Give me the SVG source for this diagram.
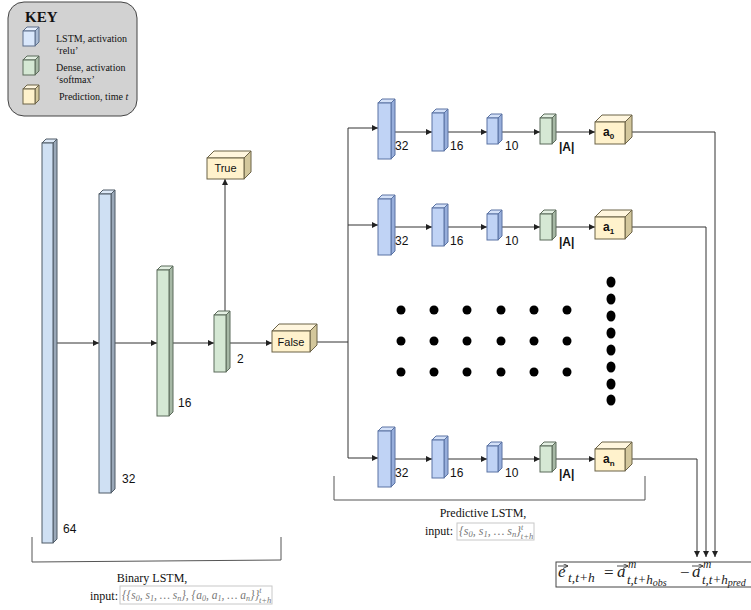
<svg xmlns="http://www.w3.org/2000/svg" width="751" height="610" viewBox="0 0 751 610">
  <defs>
    <marker id="arr" viewBox="0 0 6 6" refX="6" refY="3" markerWidth="6" markerHeight="6" markerUnits="userSpaceOnUse" orient="auto">
      <path d="M0,0 L6,3 L0,6 z" fill="#222"/>
    </marker>
    <marker id="vec" viewBox="0 0 6 6" refX="6" refY="3" markerWidth="5" markerHeight="5" markerUnits="userSpaceOnUse" orient="auto">
      <path d="M0,0 L6,3 L0,6" fill="none" stroke="#222" stroke-width="1"/>
    </marker>
  </defs>
  <style>
    .sans { font-family: "Liberation Sans", Arial, sans-serif; fill: #111; stroke: none; }
    .serif { font-family: "Liberation Serif", "Times New Roman", serif; fill: #111; }
    .math { font-family: "Liberation Serif", "Times New Roman", serif; font-style: italic; fill: #777; }
    .fx { font-family: "Liberation Serif", "Times New Roman", serif; fill: #222; }
    .line { fill: none; stroke: #333; stroke-width: 1; }
    .brk { fill: none; stroke: #555; stroke-width: 1; }
    /* cube faces: left stack (pale blue/green), right stacks (stronger blue), predictions (yellow) */
    .lb .f { fill: #cfe0f3; } .lb .t { fill: #dde9f7; } .lb .s { fill: #9aa8b8; }
    .lb polygon, .lb rect { stroke: #4f5b66; stroke-width: 1; }
    .lg .f { fill: #d5e8d4; } .lg .t { fill: #e3efe2; } .lg .s { fill: #a6b8a5; }
    .lg polygon, .lg rect { stroke: #5b6b5a; stroke-width: 1; }
    .rb .f { fill: #c0d3f5; } .rb .t { fill: #d4e1f8; } .rb .s { fill: #97aedb; }
    .rb polygon, .rb rect { stroke: #5a73a3; stroke-width: 1; }
    .yl .f { fill: #fff2cc; } .yl .t { fill: #fff6de; } .yl .s { fill: #d3c79c; }
    .yl polygon, .yl rect { stroke: #6b6247; stroke-width: 1; }
    .kb .f { fill: #dae8fc; } .kb .t { fill: #e6effc; } .kb .s { fill: #a9bbd4; }
    .kb polygon, .kb rect { stroke: #5c6f8c; stroke-width: 1; }
    .dot { fill: #000; }
  </style>

  <!-- legend -->
  <g id="key">
    <rect x="8" y="2" width="129" height="114" rx="16" ry="16" fill="#d2d2d2" stroke="#444" stroke-width="1"/>
    <text x="25" y="22" class="serif" font-size="15" font-weight="bold">KEY</text>
    <g class="kb">
      <polygon class="t" points="23,31 27,27 39,27 35,31"/>
      <polygon class="s" points="35,31 39,27 39,42 35,46"/>
      <rect class="f" x="23" y="31" width="12" height="15"/>
    </g>
    <g class="lg">
      <polygon class="t" points="23,60 27,56 39,56 35,60"/>
      <polygon class="s" points="35,60 39,56 39,71 35,75"/>
      <rect class="f" x="23" y="60" width="12" height="15"/>
    </g>
    <g class="yl">
      <polygon class="t" points="23,89 27,85 39,85 35,89"/>
      <polygon class="s" points="35,89 39,85 39,100 35,104"/>
      <rect class="f" x="23" y="89" width="12" height="15"/>
    </g>
    <g class="serif" font-size="10">
      <text x="56" y="42">LSTM, activation</text>
      <text x="56" y="54">‘relu’</text>
      <text x="56" y="71">Dense, activation</text>
      <text x="56" y="83">‘softmax’</text>
      <text x="59" y="100">Prediction, time <tspan font-style="italic">t</tspan></text>
    </g>
  </g>

  <!-- connectors -->
  <g id="connectors">
    <line class="line" x1="57" y1="343" x2="99" y2="343" marker-end="url(#arr)"/>
    <line class="line" x1="115" y1="343" x2="157" y2="343" marker-end="url(#arr)"/>
    <line class="line" x1="173" y1="343" x2="214" y2="343" marker-end="url(#arr)"/>
    <line class="line" x1="230" y1="343" x2="272" y2="343" marker-end="url(#arr)"/>
    <line class="line" x1="225" y1="313" x2="225" y2="179" marker-end="url(#arr)"/>
    <polyline class="line" points="317,342 348,342"/>
    <line class="line" x1="348" y1="128" x2="348" y2="458"/>
    <line class="line" x1="348" y1="128" x2="378" y2="128" marker-end="url(#arr)"/>
    <line class="line" x1="348" y1="225" x2="378" y2="225" marker-end="url(#arr)"/>
    <line class="line" x1="348" y1="458" x2="378" y2="458" marker-end="url(#arr)"/>
    <!-- row 0 -->
    <line class="line" x1="391" y1="132" x2="432" y2="132" marker-end="url(#arr)"/>
    <line class="line" x1="444" y1="132" x2="487" y2="132" marker-end="url(#arr)"/>
    <line class="line" x1="498" y1="132" x2="540" y2="132" marker-end="url(#arr)"/>
    <line class="line" x1="552" y1="132" x2="595" y2="132" marker-end="url(#arr)"/>
    <!-- row 1 -->
    <line class="line" x1="391" y1="227" x2="432" y2="227" marker-end="url(#arr)"/>
    <line class="line" x1="444" y1="227" x2="487" y2="227" marker-end="url(#arr)"/>
    <line class="line" x1="498" y1="227" x2="540" y2="227" marker-end="url(#arr)"/>
    <line class="line" x1="552" y1="227" x2="595" y2="227" marker-end="url(#arr)"/>
    <!-- row n -->
    <line class="line" x1="391" y1="459" x2="432" y2="459" marker-end="url(#arr)"/>
    <line class="line" x1="444" y1="459" x2="487" y2="459" marker-end="url(#arr)"/>
    <line class="line" x1="498" y1="459" x2="540" y2="459" marker-end="url(#arr)"/>
    <line class="line" x1="552" y1="459" x2="595" y2="459" marker-end="url(#arr)"/>
    <!-- outputs to error formula -->
    <polyline class="line" points="632,132 715,132 715,557" marker-end="url(#arr)"/>
    <polyline class="line" points="632,227 706,227 706,557" marker-end="url(#arr)"/>
    <polyline class="line" points="632,459 697,459 697,557" marker-end="url(#arr)"/>
  </g>

  <!-- binary LSTM stack -->
  <g id="b64" class="lb">
    <polygon class="t" points="42,143 46,139 57,139 53,143"/>
    <polygon class="s" points="53,143 57,139 57,539 53,543"/>
    <rect class="f" x="42" y="143" width="11" height="400"/>
  </g>
  <text x="63" y="533" class="sans" font-size="12">64</text>
  <g id="b32" class="lb">
    <polygon class="t" points="99,194 103,190 115,190 111,194"/>
    <polygon class="s" points="111,194 115,190 115,489 111,493"/>
    <rect class="f" x="99" y="194" width="12" height="299"/>
  </g>
  <text x="122" y="483" class="sans" font-size="12">32</text>
  <g id="b16" class="lg">
    <polygon class="t" points="157,270 161,266 173,266 169,270"/>
    <polygon class="s" points="169,270 173,266 173,412 169,416"/>
    <rect class="f" x="157" y="270" width="12" height="146"/>
  </g>
  <text x="178" y="407" class="sans" font-size="12">16</text>
  <g id="b2" class="lg">
    <polygon class="t" points="214,315 218,311 230,311 226,315"/>
    <polygon class="s" points="226,315 230,311 230,368 226,372"/>
    <rect class="f" x="214" y="315" width="12" height="57"/>
  </g>
  <text x="237" y="363" class="sans" font-size="12">2</text>

  <g id="true" class="yl">
    <polygon class="t" points="207,158 214,151 251,151 244,158"/>
    <polygon class="s" points="244,158 251,151 251,172 244,179"/>
    <rect class="f" x="207" y="158" width="37" height="21"/>
    <text x="225.5" y="172" class="sans" font-size="11" text-anchor="middle">True</text>
  </g>
  <g id="false" class="yl">
    <polygon class="t" points="272,331 279,324 317,324 310,331"/>
    <polygon class="s" points="310,331 317,324 317,345 310,352"/>
    <rect class="f" x="272" y="331" width="38" height="21"/>
    <text x="291" y="346" class="sans" font-size="11" text-anchor="middle">False</text>
  </g>

  <!-- predictive row 0 -->
  <g id="r0-32" class="rb">
    <polygon class="t" points="378,103 382,99 395,99 391,103"/>
    <polygon class="s" points="391,103 395,99 395,155 391,159"/>
    <rect class="f" x="378" y="103" width="13" height="56"/>
  </g>
  <g id="r0-16" class="rb">
    <polygon class="t" points="432,113 436,109 448,109 444,113"/>
    <polygon class="s" points="444,113 448,109 448,147 444,151"/>
    <rect class="f" x="432" y="113" width="12" height="38"/>
  </g>
  <g id="r0-10" class="rb">
    <polygon class="t" points="487,118 491,114 502,114 498,118"/>
    <polygon class="s" points="498,118 502,114 502,140 498,144"/>
    <rect class="f" x="487" y="118" width="11" height="26"/>
  </g>
  <g id="r0-A" class="lg">
    <polygon class="t" points="540,118 544,114 556,114 552,118"/>
    <polygon class="s" points="552,118 556,114 556,140 552,144"/>
    <rect class="f" x="540" y="118" width="12" height="26"/>
  </g>
  <g id="a0" class="yl">
    <polygon class="t" points="595,122 602,115 632,115 625,122"/>
    <polygon class="s" points="625,122 632,115 632,137 625,144"/>
    <rect class="f" x="595" y="122" width="30" height="22"/>
    <text x="603" y="136" class="sans" font-size="12" font-weight="bold">a<tspan font-size="8" dy="3">0</tspan></text>
  </g>
  <g class="sans" font-size="12">
    <text x="395" y="150">32</text>
    <text x="450" y="150">16</text>
    <text x="505" y="150">10</text>
    <text x="559" y="151" font-weight="bold">|A|</text>
  </g>

  <!-- predictive row 1 -->
  <g id="r1-32" class="rb">
    <polygon class="t" points="378,199 382,195 395,195 391,199"/>
    <polygon class="s" points="391,199 395,195 395,251 391,255"/>
    <rect class="f" x="378" y="199" width="13" height="56"/>
  </g>
  <g id="r1-16" class="rb">
    <polygon class="t" points="432,208 436,204 448,204 444,208"/>
    <polygon class="s" points="444,208 448,204 448,242 444,246"/>
    <rect class="f" x="432" y="208" width="12" height="38"/>
  </g>
  <g id="r1-10" class="rb">
    <polygon class="t" points="487,214 491,210 502,210 498,214"/>
    <polygon class="s" points="498,214 502,210 502,236 498,240"/>
    <rect class="f" x="487" y="214" width="11" height="26"/>
  </g>
  <g id="r1-A" class="lg">
    <polygon class="t" points="540,214 544,210 556,210 552,214"/>
    <polygon class="s" points="552,214 556,210 556,236 552,240"/>
    <rect class="f" x="540" y="214" width="12" height="26"/>
  </g>
  <g id="a1" class="yl">
    <polygon class="t" points="595,217 602,210 632,210 625,217"/>
    <polygon class="s" points="625,217 632,210 632,232 625,239"/>
    <rect class="f" x="595" y="217" width="30" height="22"/>
    <text x="603" y="231" class="sans" font-size="12" font-weight="bold">a<tspan font-size="8" dy="3">1</tspan></text>
  </g>
  <g class="sans" font-size="12">
    <text x="395" y="245">32</text>
    <text x="450" y="245">16</text>
    <text x="505" y="245">10</text>
    <text x="559" y="246" font-weight="bold">|A|</text>
  </g>

  <!-- ellipsis between rows -->
  <g id="dots">
    <circle class="dot" cx="401" cy="310" r="4.5"/><circle class="dot" cx="434" cy="310" r="4.5"/><circle class="dot" cx="467" cy="310" r="4.5"/>
    <circle class="dot" cx="501" cy="310" r="4.5"/><circle class="dot" cx="534" cy="310" r="4.5"/><circle class="dot" cx="567" cy="310" r="4.5"/>
    <circle class="dot" cx="401" cy="341" r="4.5"/><circle class="dot" cx="434" cy="341" r="4.5"/><circle class="dot" cx="467" cy="341" r="4.5"/>
    <circle class="dot" cx="501" cy="341" r="4.5"/><circle class="dot" cx="534" cy="341" r="4.5"/><circle class="dot" cx="567" cy="341" r="4.5"/>
    <circle class="dot" cx="401" cy="372" r="4.5"/><circle class="dot" cx="434" cy="372" r="4.5"/><circle class="dot" cx="467" cy="372" r="4.5"/>
    <circle class="dot" cx="501" cy="372" r="4.5"/><circle class="dot" cx="534" cy="372" r="4.5"/><circle class="dot" cx="567" cy="372" r="4.5"/>
    <ellipse class="dot" cx="611" cy="282" rx="4.5" ry="5.5"/><ellipse class="dot" cx="611" cy="299" rx="4.5" ry="5.5"/>
    <ellipse class="dot" cx="611" cy="316" rx="4.5" ry="5.5"/><ellipse class="dot" cx="611" cy="333" rx="4.5" ry="5.5"/>
    <ellipse class="dot" cx="611" cy="350" rx="4.5" ry="5.5"/><ellipse class="dot" cx="611" cy="367" rx="4.5" ry="5.5"/>
    <ellipse class="dot" cx="611" cy="384" rx="4.5" ry="5.5"/><ellipse class="dot" cx="611" cy="400" rx="4.5" ry="5.5"/>
  </g>

  <!-- predictive row n -->
  <g id="rn-32" class="rb">
    <polygon class="t" points="378,431 382,427 395,427 391,431"/>
    <polygon class="s" points="391,431 395,427 395,483 391,487"/>
    <rect class="f" x="378" y="431" width="13" height="56"/>
  </g>
  <g id="rn-16" class="rb">
    <polygon class="t" points="432,440 436,436 448,436 444,440"/>
    <polygon class="s" points="444,440 448,436 448,474 444,478"/>
    <rect class="f" x="432" y="440" width="12" height="38"/>
  </g>
  <g id="rn-10" class="rb">
    <polygon class="t" points="487,446 491,442 502,442 498,446"/>
    <polygon class="s" points="498,446 502,442 502,468 498,472"/>
    <rect class="f" x="487" y="446" width="11" height="26"/>
  </g>
  <g id="rn-A" class="lg">
    <polygon class="t" points="540,446 544,442 556,442 552,446"/>
    <polygon class="s" points="552,446 556,442 556,468 552,472"/>
    <rect class="f" x="540" y="446" width="12" height="26"/>
  </g>
  <g id="an" class="yl">
    <polygon class="t" points="595,449 602,442 632,442 625,449"/>
    <polygon class="s" points="625,449 632,442 632,464 625,471"/>
    <rect class="f" x="595" y="449" width="30" height="22"/>
    <text x="603" y="463" class="sans" font-size="12" font-weight="bold">a<tspan font-size="8" dy="3">n</tspan></text>
  </g>
  <g class="sans" font-size="12">
    <text x="395" y="477">32</text>
    <text x="450" y="477">16</text>
    <text x="505" y="477">10</text>
    <text x="559" y="478" font-weight="bold">|A|</text>
  </g>

  <!-- brackets and captions -->
  <g id="binary-caption">
    <polyline class="brk" points="32,537 32,562 281,560 281,537"/>
    <text x="152" y="582" class="serif" font-size="12" text-anchor="middle">Binary LSTM,</text>
    <text x="90" y="600" class="serif" font-size="12">input:</text>
    <rect x="120" y="586" width="152" height="18" fill="#fff" stroke="#c8c8c8" stroke-width="1"/>
    <text x="122" y="599" class="math" font-size="11.5">{{s<tspan font-size="8" dy="2">0</tspan><tspan dy="-2">, s</tspan><tspan font-size="8" dy="2">1</tspan><tspan dy="-2">, … s</tspan><tspan font-size="8" dy="2">n</tspan><tspan dy="-2">}, {a</tspan><tspan font-size="8" dy="2">0</tspan><tspan dy="-2">, a</tspan><tspan font-size="8" dy="2">1</tspan><tspan dy="-2">, … a</tspan><tspan font-size="8" dy="2">n</tspan><tspan dy="-2">}}</tspan><tspan font-size="8" dy="-6">t</tspan><tspan font-size="8.5" dx="-2.5" dy="10">t+h</tspan></text>
  </g>
  <g id="predictive-caption">
    <polyline class="brk" points="334,476 334,500 645,500 645,476"/>
    <text x="483" y="517" class="serif" font-size="12" text-anchor="middle">Predictive LSTM,</text>
    <text x="425" y="535" class="serif" font-size="12">input:</text>
    <rect x="457" y="523" width="77" height="17" fill="#fff" stroke="#c8c8c8" stroke-width="1"/>
    <text x="459" y="535" class="math" font-size="12">{s<tspan font-size="8.5" dy="2">0</tspan><tspan dy="-2">, s</tspan><tspan font-size="8.5" dy="2">1</tspan><tspan dy="-2">, … s</tspan><tspan font-size="8.5" dy="2">n</tspan><tspan dy="-2">}</tspan><tspan font-size="8" dy="-5">t</tspan><tspan font-size="8.5" dx="-2.5" dy="9">t+h</tspan></text>
  </g>

  <!-- prediction error formula -->
  <g id="formula">
    <rect x="556" y="562" width="200" height="25" fill="#fff" stroke="#444" stroke-width="1"/>
    <line x1="558" y1="566" x2="568" y2="566" stroke="#222" stroke-width="0.8" marker-end="url(#vec)"/>
    <text x="558" y="577" class="fx" font-size="17" font-style="italic">e</text>
    <text x="568" y="582" class="fx" font-size="13.5" font-style="italic">t,t+h</text>
    <text x="604" y="578" class="fx" font-size="17">=</text>
    <line x1="617" y1="566" x2="628" y2="566" stroke="#222" stroke-width="0.8" marker-end="url(#vec)"/>
    <text x="617" y="577" class="fx" font-size="17" font-style="italic">a</text>
    <text x="628" y="568" class="fx" font-size="11.5" font-style="italic">m</text>
    <text x="627" y="584" class="fx" font-size="13" font-style="italic">t,t+h<tspan font-size="10" dy="2">obs</tspan></text>
    <text x="680" y="578" class="fx" font-size="17">−</text>
    <line x1="692" y1="566" x2="703" y2="566" stroke="#222" stroke-width="0.8" marker-end="url(#vec)"/>
    <text x="692" y="577" class="fx" font-size="17" font-style="italic">a</text>
    <text x="703" y="568" class="fx" font-size="11.5" font-style="italic">m</text>
    <text x="702" y="584" class="fx" font-size="13" font-style="italic">t,t+h<tspan font-size="10" dy="2">pred</tspan></text>
  </g>
</svg>
